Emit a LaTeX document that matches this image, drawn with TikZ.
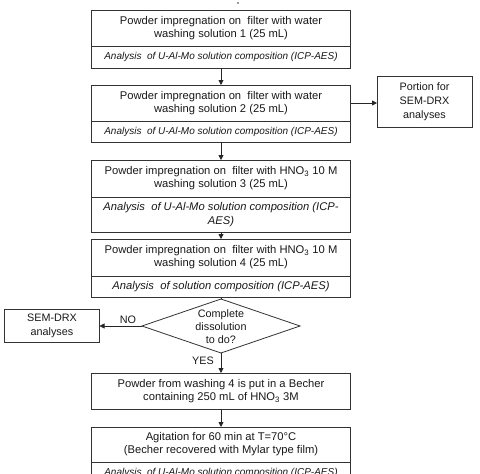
\documentclass[tikz,border=0pt]{standalone}
\usepackage{fontspec}
\setmainfont{Liberation Sans}
\usetikzlibrary{arrows.meta}
\begin{document}
\begin{tikzpicture}[x=1pt,y=-1pt,
  line width=0.8pt,
  every node/.style={inner sep=0pt, outer sep=0pt, text=black!90},
  mainbox/.style={draw=black!80, minimum width=259pt, align=center, font=\fontsize{11.2}{13}\selectfont},
  subbox/.style={draw=black!80, minimum width=259pt, align=center, font=\fontsize{10}{12}\selectfont\itshape},
  subboxb/.style={draw=black!80, minimum width=259pt, align=center, font=\fontsize{11.2}{13.5}\selectfont\itshape},
  sidebox/.style={draw=black!80, align=center, font=\fontsize{10.8}{14}\selectfont},
  lbl/.style={font=\fontsize{10.8}{12}\selectfont},
  arr/.style={draw=black!85, -{Triangle[length=5pt,width=5pt]}}]
\useasboundingbox (0,0) rectangle (480,474);
\fill[white] (0,0) rectangle (480,474);
\clip (0,0) rectangle (480,474);

\fill[black!80] (238,3) circle (0.9);

% box 1
\node[mainbox, minimum height=36pt] (b1) at (221,28) {Powder impregnation on\ \ filter with water\\washing solution 1 (25 mL)};
\node[subbox, minimum height=22pt, anchor=north] (a1) at (b1.south) {Analysis\ \ of U-Al-Mo solution composition (ICP-AES)};
% box 2
\node[mainbox, minimum height=36pt] (b2) at (221,103) {Powder impregnation on\ \ filter with water\\washing solution 2 (25 mL)};
\node[subbox, minimum height=21pt, anchor=north] (a2) at (b2.south) {Analysis\ \ of U-Al-Mo solution composition (ICP-AES)};
% portion box
\node[sidebox, minimum width=95pt, minimum height=51pt] (p) at (424.5,101.5) {Portion for\\SEM-DRX\\analyses};
% box 3
\node[mainbox, minimum height=37pt] (b3) at (221,178.5) {Powder impregnation on\ \ filter with HNO\textsubscript{3} 10 M\\washing solution 3 (25 mL)};
\node[subboxb, minimum height=35pt, anchor=north] (a3) at (b3.south) {Analysis\ \ of U-Al-Mo solution composition (ICP-\\AES)};
% box 4
\node[mainbox, minimum height=37pt] (b4) at (221,257.5) {Powder impregnation on\ \ filter with HNO\textsubscript{3} 10 M\\washing solution 4 (25 mL)};
\node[subboxb, minimum height=21pt, anchor=north] (a4) at (b4.south) {Analysis\ \ of solution composition (ICP-AES)};
% decision
\coordinate (dN) at (221,299);
\coordinate (dS) at (221,353);
\coordinate (dW) at (142,326);
\coordinate (dE) at (300,326);
\draw[black!80] (dN) -- (dE) -- (dS) -- (dW) -- cycle;
\node[align=center, font=\fontsize{10.8}{13}\selectfont] (d) at (221,326.5) {Complete\\dissolution\\to do?};
% SEM-DRX left
\node[sidebox, minimum width=95pt, minimum height=33pt] (s) at (52,325.5) {SEM-DRX\\analyses};
% box 5
\node[mainbox, minimum height=36pt] (b5) at (221,391) {Powder from washing 4 is put in a Becher\\containing 250 mL of HNO\textsubscript{3} 3M};
% box 6
\node[mainbox, minimum height=35pt] (b6) at (221,444.5) {Agitation for 60 min at T=70°C\\(Becher recovered with Mylar type film)};
\node[subbox, minimum height=22pt, anchor=north] (a6) at (b6.south) {Analysis\ \ of U-Al-Mo solution composition (ICP-AES)};

% connectors
\draw[arr] (a1) -- (b2);
\draw[arr] (b2.east) -- (b2.east -| p.west);
\draw[arr] (a2) -- (b3);
\draw[arr] (a3) -- (b4);
\draw[black!85] (a4.south) -- (dN);
\draw[arr] (dW) -- (dW -| s.east);
\draw[arr] (dS) -- (b5.north);
\draw[arr] (b5) -- (b6);
\node[lbl] (no) at (128,320) {NO};
\node[lbl] (yes) at (203,361) {YES};
\end{tikzpicture}
\end{document}
